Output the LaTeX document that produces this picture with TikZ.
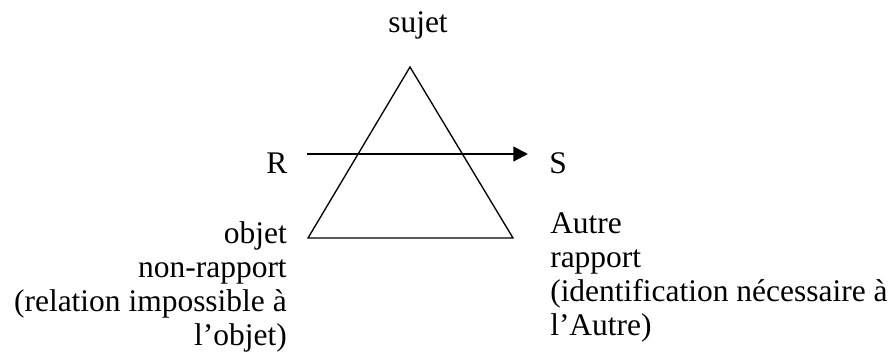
\documentclass[tikz,border=0pt]{standalone}
\usepackage{fontspec}
\setmainfont{Liberation Serif}
\usetikzlibrary{arrows.meta}
\tikzset{
  lbl/.style={inner sep=0pt, font=\fontsize{23.6}{25.5}\selectfont},
  lleft/.style={lbl, anchor=base east},
  lright/.style={lbl, anchor=base west},
  tri/.style={line width=1pt, line join=miter},
  arr/.style={line width=1.6pt, -{Triangle[length=11pt,width=11pt]}}
}
\begin{document}
\begin{tikzpicture}[x=0.75pt,y=-0.75pt]
\useasboundingbox (0,0) rectangle (896,361);
% triangle
\coordinate (A) at (410,67);
\coordinate (B) at (308,238);
\coordinate (C) at (513,238);
\draw[tri] (A) -- (B) -- (C) -- cycle;
% labels
\node[lbl, anchor=base] (sujet) at (418,32) {sujet};
\node[lbl, anchor=base west] (R) at (266,173) {R};
\node[lbl, anchor=base west] (S) at (549,173) {S};
\coordinate (r0) at (307,154);
\coordinate (s0) at (528,154);
\draw[arr] (r0) -- (s0);
% left block
\node[lleft] (l1) at (287,243) {objet};
\node[lleft] (l2) at (287,277) {non-rapport};
\node[lleft] (l3) at (287,311) {(relation impossible à};
\node[lleft] (l4) at (287,345) {l’objet)};
% right block
\node[lright] (r1) at (550,233) {Autre};
\node[lright] (r2) at (550,267) {rapport};
\node[lright] (r3) at (550,301) {(identification nécessaire à};
\node[lright] (r4) at (550,335) {l’Autre)};
\end{tikzpicture}
\end{document}
